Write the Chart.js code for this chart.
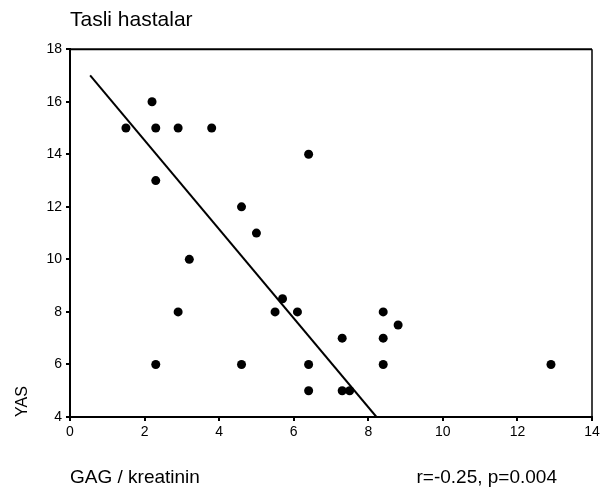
<!DOCTYPE html>
<html>
<head>
<meta charset="utf-8">
<script src="https://cdn.jsdelivr.net/npm/chart.js@4.4.1/dist/chart.umd.min.js"></script>
<style>
  html, body { margin: 0; padding: 0; background: #fff; }
  #wrap { width: 605px; height: 491px; position: relative; }
</style>
</head>
<body>
<div id="wrap"><canvas id="c" width="605" height="491"></canvas></div>
<script>
// ---- data ----
const gagKreatinin = [2.2, 1.5, 2.3, 2.9, 3.8, 2.3, 4.6, 5.0, 3.2, 2.9, 2.3, 4.6, 6.4, 5.7, 5.5, 6.1, 8.4, 8.8, 7.3, 8.4, 6.4, 8.4, 6.4, 7.3, 7.5, 12.9];
const yas          = [16,  15,  15,  15,  15,  13,  12,  11,  10,  8,   6,   6,   14,  8.5, 8,   8,   8,   7.5, 7,   7,   6,   6,   5,   5,   5,   6];
const fitX = [0.54, 8.22];
const fitY = [17, 4];
const xTicks = [0, 2, 4, 6, 8, 10, 12, 14];
const yTicks = [4, 6, 8, 10, 12, 14, 16, 18];
const titleText = 'Tasli hastalar';
const xTitle = 'GAG / kreatinin';
const yTitle = 'YAS';
const statsText = 'r=-0.25, p=0.004';

const points = gagKreatinin.map((x, i) => ({ x: x, y: yas[i] }));
const fitLine = fitX.map((x, i) => ({ x: x, y: fitY[i] }));

const FONT = "'Liberation Sans', Arial, Helvetica, sans-serif";

const framePlugin = {
  id: 'frame',
  afterDatasetsDraw(chart) {
    const a = chart.chartArea, ctx = chart.ctx;
    ctx.save();
    ctx.strokeStyle = '#000';
    ctx.lineWidth = 2;
    ctx.beginPath();
    ctx.moveTo(a.left, a.top);
    ctx.lineTo(a.right, a.top);
    ctx.stroke();
    ctx.lineWidth = 1.5;
    ctx.beginPath();
    ctx.moveTo(a.right, a.top);
    ctx.lineTo(a.right, a.bottom);
    ctx.stroke();
    ctx.restore();
  },
  afterDraw(chart) {
    const a = chart.chartArea, ctx = chart.ctx;
    ctx.save();
    ctx.fillStyle = '#000';
    ctx.font = '19px ' + FONT;
    ctx.textAlign = 'right';
    ctx.textBaseline = 'middle';
    ctx.fillText(statsText, a.right - 35, 477.5);
    ctx.restore();
  }
};

new Chart(document.getElementById('c'), {
  type: 'scatter',
  data: {
    datasets: [
      {
        type: 'scatter',
        data: points,
        backgroundColor: '#000',
        borderColor: '#000',
        borderWidth: 0,
        pointRadius: 4.5,
        pointHoverRadius: 4.5
      },
      {
        type: 'line',
        data: fitLine,
        borderColor: '#000',
        borderWidth: 2,
        pointRadius: 0,
        fill: false,
        tension: 0
      }
    ]
  },
  options: {
    responsive: false,
    animation: false,
    devicePixelRatio: 1,
    layout: { padding: { left: 0, right: 13, top: 0, bottom: 0 } },
    plugins: {
      legend: { display: false },
      tooltip: { enabled: false },
      title: {
        display: true,
        text: titleText,
        align: 'start',
        fullSize: false,
        color: '#000',
        font: { family: FONT, size: 21, weight: 'normal' },
        padding: { top: 8, bottom: 16 }
      }
    },
    scales: {
      x: {
        type: 'linear',
        min: 0, max: 14,
        afterBuildTicks: s => { s.ticks = xTicks.map(v => ({ value: v })); },
        afterFit: s => { s.height = 74; },
        grid: { display: true, drawOnChartArea: false, drawTicks: true, tickLength: 4, color: '#000', lineWidth: 2 },
        border: { display: true, color: '#000', width: 2 },
        ticks: { color: '#000', padding: 3, font: { family: FONT, size: 14 }, maxRotation: 0 },
        title: { display: true, text: xTitle, align: 'start', color: '#000', font: { family: FONT, size: 19 }, padding: { top: 0, bottom: 2 } }
      },
      y: {
        type: 'linear',
        min: 4, max: 18,
        afterBuildTicks: s => { s.ticks = yTicks.map(v => ({ value: v })); },
        afterFit: s => { s.width = 70; },
        grid: { display: true, drawOnChartArea: false, drawTicks: true, tickLength: 4, color: '#000', lineWidth: 2 },
        border: { display: true, color: '#000', width: 2 },
        ticks: { color: '#000', padding: 4, font: { family: FONT, size: 14 } },
        title: { display: true, text: yTitle, align: 'start', color: '#000', font: { family: FONT, size: 16 }, padding: { top: 13, bottom: 0 } }
      }
    }
  },
  plugins: [framePlugin]
});
</script>
</body>
</html>
